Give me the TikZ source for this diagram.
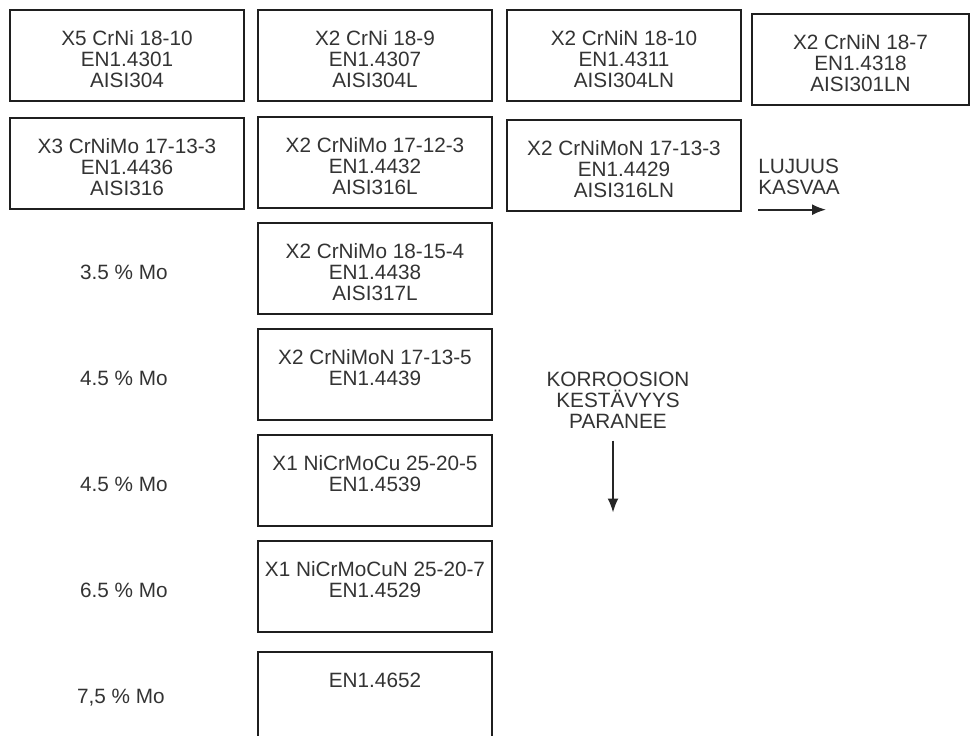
\documentclass[tikz,border=0pt]{standalone}
\usepackage{fontspec}
\setmainfont{Liberation Sans}
\usepackage{tikz}
\usetikzlibrary{positioning}
\usetikzlibrary{arrows.meta}
\newcommand{\diagfont}{\fontsize{11.8pt}{11.9pt}\selectfont}
\tikzset{
	node distance = 0.3cm and 0.3cm,
	matbox/.style = {rectangle, draw=black!88, line width=1.4pt, outer sep=0pt,
	 minimum width=4.68cm, minimum height=1.82cm, inner sep=0pt},
	boxtext/.style = {anchor=north, align=center, inner sep=0pt,
	 yshift=-0.41cm, text=black!80, font=\diagfont},
	molabel/.style = {inner sep=0pt, text=black!80, font=\diagfont},
	note/.style = {inner sep=0pt, text=black!80, font=\diagfont},
	trendarrow/.style = {-{Latex[length=0.28cm, width=0.22cm]}, line width=1pt, draw=black!85},
}

\begin{document}
\begin{tikzpicture}
	\useasboundingbox (0,0) rectangle (19.44,-14.7);
	\clip (0,0) rectangle (19.44,-14.7);
	% first row
	\node (a) [matbox, anchor=north west, label = {[boxtext]north:{X5 CrNi 18-10\\EN1.4301\\AISI304}}] at (0.2,-0.2) {};
	\node (b) [matbox, right = 0.28cm of a, label = {[boxtext]north:{X2 CrNi 18-9\\EN1.4307\\AISI304L}}] {};
	\node (c) [matbox, right = 0.3cm of b, label = {[boxtext]north:{X2 CrNiN 18-10\\EN1.4311\\AISI304LN}}] {};
	\node (d) [matbox, minimum width=4.34cm, right = 0.22cm of c, yshift=-0.08cm, label = {[boxtext]north:{X2 CrNiN 18-7\\EN1.4318\\AISI301LN}}] {};
	% second row
	\node (e) [matbox, below = 0.34cm of a, label = {[boxtext]north:{X3 CrNiMo 17-13-3\\EN1.4436\\AISI316}}] {};
	\node (f) [matbox, below = 0.32cm of b, label = {[boxtext]north:{X2 CrNiMo 17-12-3\\EN1.4432\\AISI316L}}] {};
	\node (g) [matbox, below = 0.38cm of c, label = {[boxtext]north:{X2 CrNiMoN 17-13-3\\EN1.4429\\AISI316LN}}] {};
	% molybdenum column
	\node (h) [matbox, below = 0.3cm of f, label = {[boxtext]north:{X2 CrNiMo 18-15-4\\EN1.4438\\AISI317L}}] {};
	\node (i) [matbox, below = 0.3cm of h, label = {[boxtext]north:{X2 CrNiMoN 17-13-5\\EN1.4439}}] {};
	\node (j) [matbox, below = 0.3cm of i, label = {[boxtext]north:{X1 NiCrMoCu 25-20-5\\EN1.4539}}] {};
	\node (k) [matbox, below = 0.3cm of j, label = {[boxtext]north:{X1 NiCrMoCuN 25-20-7\\EN1.4529}}] {};
	\node (l) [matbox, below = 0.4cm of k, label = {[boxtext]north:{EN1.4652}}] {};
	% Mo contents
	\node (moh) [molabel, left = 1.8cm of h, yshift=-0.08cm] {3.5 \% Mo};
	\node (moi) [molabel, left = 1.8cm of i, yshift=-0.08cm] {4.5 \% Mo};
	\node (moj) [molabel, left = 1.8cm of j, yshift=-0.08cm] {4.5 \% Mo};
	\node (mok) [molabel, left = 1.8cm of k, yshift=-0.08cm] {6.5 \% Mo};
	\node (mol) [molabel, left = 1.86cm of l] {7,5 \% Mo};
	% trends
	\node (lujuus) [note, align=left, right = 0.34cm of g, yshift=-0.22cm] {LUJUUS\\KASVAA};
	\node (lujstart) [coordinate, below = 0.3cm of lujuus.south west] {};
	\node (lujtip) [coordinate, right = 1.36cm of lujstart] {};
	\draw[trendarrow] (lujstart) -- (lujtip);
	\node (korr) [note, align=center] at (12.36,-8.0) {KORROOSION\\KESTÄVYYS\\PARANEE};
	\node (korrstart) [coordinate, below = 0.24cm of korr.south, xshift=-0.1cm] {};
	\node (korrtip) [coordinate, below = 1.44cm of korrstart] {};
	\draw[trendarrow] (korrstart) -- (korrtip);
\end{tikzpicture}
\end{document}
